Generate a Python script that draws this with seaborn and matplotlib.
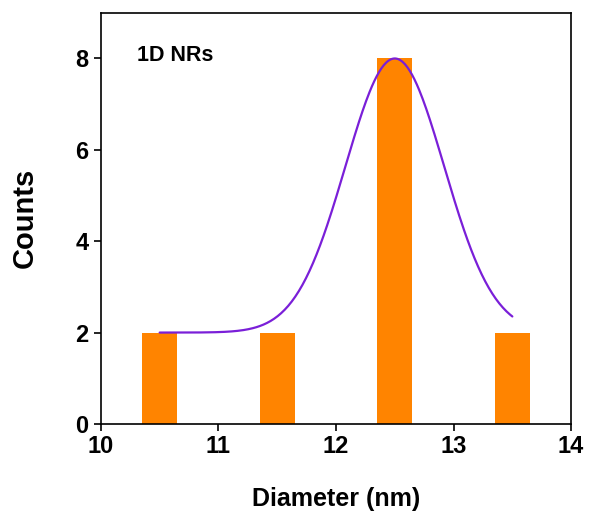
import matplotlib.pyplot as plt
import seaborn as sns
import numpy as np

# histogram of nanorod diameters
diameter = [10.5, 11.5, 12.5, 13.5]
counts = [2, 2, 8, 2]

# gaussian fit: baseline, centre, sigma, peak height above baseline
fit_y0 = 2.0
fit_xc = 12.5
fit_sigma = 0.42
fit_height = 6.0
fit_range = (10.5, 13.5)

sns.set_style('ticks')
plt.rcParams['font.family'] = ['Liberation Sans', 'DejaVu Sans']
plt.rcParams['font.weight'] = 'bold'
plt.rcParams['text.color'] = 'black'
plt.rcParams['axes.labelcolor'] = 'black'
plt.rcParams['xtick.color'] = 'black'
plt.rcParams['ytick.color'] = 'black'

fig = plt.figure(figsize=(5.9, 5.12), dpi=100)
ax = fig.add_axes([0.171, 0.172, 0.797, 0.803])

sns.barplot(x=diameter, y=counts, native_scale=True, width=0.3, color='#ff8400',
            saturation=1, errorbar=None, linewidth=0, ax=ax)

xs = np.linspace(fit_range[0], fit_range[1], 300)
ys = fit_y0 + fit_height * np.exp(-(xs - fit_xc) ** 2 / (2 * fit_sigma ** 2))
sns.lineplot(x=xs, y=ys, color='#7a1fd8', lw=1.6, ax=ax)

ax.set_xlim(10, 14)
ax.set_ylim(0, 9)
ax.set_xticks([10, 11, 12, 13, 14])
ax.set_yticks([0, 2, 4, 6, 8])
ax.tick_params(direction='out', length=5, width=1.2, labelsize=17, colors='black')
ax.tick_params(axis='x', pad=3)
ax.tick_params(axis='y', pad=4)
for lab in ax.get_xticklabels() + ax.get_yticklabels():
    lab.set_fontweight('bold')
for s in ax.spines.values():
    s.set_linewidth(1.2)
    s.set_color('black')

ax.set_xlabel('Diameter (nm)', fontsize=18, fontweight='bold', labelpad=21)
ax.set_ylabel('Counts', fontsize=21, fontweight='bold', labelpad=26)
ax.text(0.077, 0.895, '1D NRs', transform=ax.transAxes, fontsize=15.5,
        fontweight='bold', va='center', ha='left')

fig.savefig('out.png', dpi=100)
